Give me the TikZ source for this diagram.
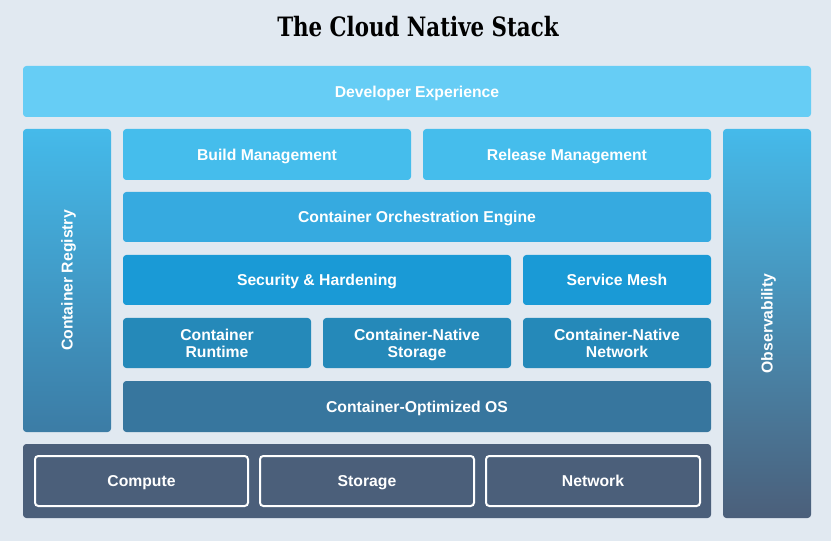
\documentclass[tikz,border=0pt]{standalone}
\usepackage{fontspec}
\setmainfont{Liberation Sans}
\newfontfamily\titlefont{DejaVu Serif Condensed}
\usetikzlibrary{positioning}
\definecolor{bgc}{HTML}{E1E9F1}
\definecolor{devc}{HTML}{66CDF5}
\definecolor{buildc}{HTML}{45BDEC}
\definecolor{orchc}{HTML}{36AAE0}
\definecolor{secc}{HTML}{1A9AD6}
\definecolor{rtc}{HTML}{2589B9}
\definecolor{osc}{HTML}{37769E}
\definecolor{infc}{HTML}{4B5F7A}
\definecolor{gtop}{HTML}{45BAEA}
\definecolor{regbot}{HTML}{3C7CA5}
\begin{document}
\begin{tikzpicture}[x=0.75pt,y=-0.75pt,
  sz/.style 2 args={minimum width=#1*0.75pt,minimum height=#2*0.75pt},
  lbl/.style={text=white,font=\fontsize{11.8pt}{12.5pt}\selectfont\bfseries,align=center},
  one/.style={text height=8.4pt,text depth=0pt},
  two/.style={text depth=-2.6pt},
  blk/.style={rectangle,rounded corners=2.5pt,inner sep=0pt,lbl,fill=#1},
  outl/.style={rectangle,rounded corners=2.5pt,inner sep=0pt,lbl,one,
    draw=white,line width=1.5pt},
  vbar/.style={rectangle,rounded corners=2.5pt,inner sep=0pt,top color=gtop,bottom color=#1}
]
\useasboundingbox (0,0) rectangle (831,541);
\fill[bgc] (0,0) rectangle (831,541);
\node[font=\titlefont\fontsize{20pt}{21pt}\selectfont\bfseries] (title) at (418,27) {\scalebox{0.89}[1]{The Cloud Native Stack}};
\node[blk=devc,one,sz={788}{51}] (dev) at (417,91.5) {Developer Experience};
\node[vbar=regbot,sz={88}{303}] (reg) at (67,280.5) {};
\node[rotate=90,lbl,one] (regt) at (reg.center) {Container Registry};
\node[blk=buildc,one,sz={288}{51}] (build) at (267,154.5) {Build Management};
\node[blk=buildc,one,sz={288}{51}] (release) at (567,154.5) {Release Management};
\node[blk=orchc,one,sz={588}{50}] (orch) at (417,217) {Container Orchestration Engine};
\node[blk=secc,one,sz={388}{50}] (sec) at (317,280) {Security \& Hardening};
\node[blk=secc,one,sz={188}{50}] (mesh) at (617,280) {Service Mesh};
\node[blk=rtc,two,sz={188}{50}] (runtime) at (217,343) {Container\\Runtime};
\node[blk=rtc,two,sz={188}{50}] (cns) at (417,343) {Container-Native\\Storage};
\node[blk=rtc,two,sz={188}{50}] (cnn) at (617,343) {Container-Native\\Network};
\node[blk=osc,one,sz={588}{51}] (os) at (417,406.5) {Container-Optimized OS};
\node[blk=infc,sz={688}{74}] (infra) at (367,481) {};
\node[outl,sz={213}{50}] (compute) at (141.5,481) {Compute};
\node[outl,sz={214}{50}] (storage) at (367,481) {Storage};
\node[outl,sz={214}{50}] (network) at (593,481) {Network};
\node[vbar=infc,sz={88}{389}] (obs) at (767,323.5) {};
\node[rotate=90,lbl,one] (obst) at (obs.center) {Observability};
\end{tikzpicture}
\end{document}
